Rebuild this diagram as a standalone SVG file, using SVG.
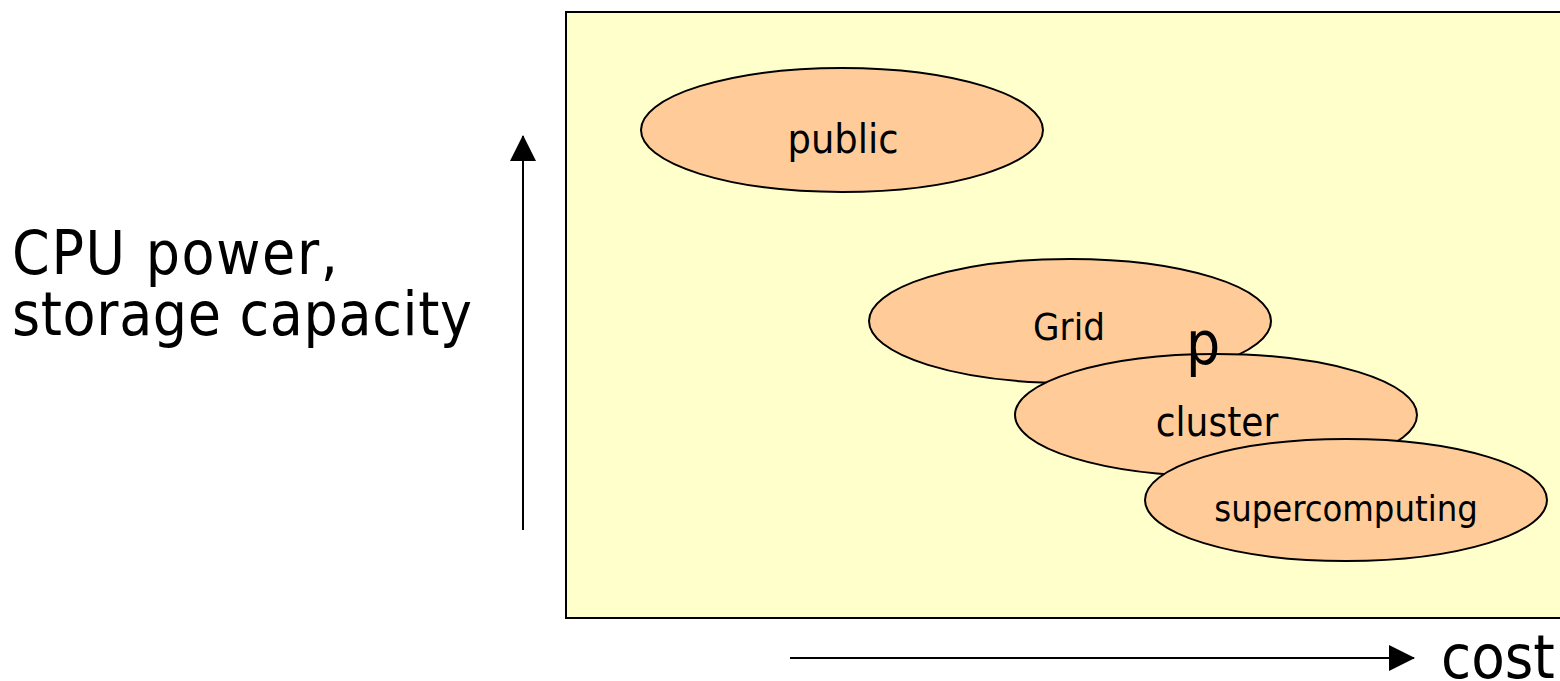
<svg xmlns="http://www.w3.org/2000/svg" width="1560" height="681" viewBox="0 0 1560 681">
<defs>
<style>
.t{font-family:"DejaVu Sans Condensed","DejaVu Sans","Verdana",sans-serif;font-stretch:condensed;fill:#000}
.e{fill:#FFCC99;stroke:#000;stroke-width:2}
.ax{stroke:#000;stroke-width:2;fill:none}
</style>
<marker id="ah" markerWidth="26" markerHeight="26" viewBox="0 0 26 26" refX="25" refY="13" orient="auto" markerUnits="userSpaceOnUse">
<path d="M0,0 L26,13 L0,26 Z" fill="#000"/>
</marker>
</defs>
<rect width="1560" height="681" fill="#fff"/>
<rect id="panel" x="566" y="12" width="1000" height="606" fill="#FFFFCC" stroke="#000" stroke-width="2"/>
<g id="connectors">
<line class="ax" x1="523" y1="530" x2="523" y2="136" marker-end="url(#ah)"/>
<line class="ax" x1="790" y1="658" x2="1414" y2="658" marker-end="url(#ah)"/>
</g>
<g id="public"><ellipse class="e" cx="842" cy="130" rx="201" ry="62"/><text class="t" x="843" y="153" font-size="41" text-anchor="middle">public</text></g>
<g id="grid"><ellipse class="e" cx="1070" cy="321" rx="201" ry="62"/><text class="t" x="1069" y="340" font-size="38" text-anchor="middle">Grid</text></g>
<g id="cluster"><ellipse class="e" cx="1216" cy="415" rx="201" ry="61"/><text class="t" x="1217" y="436" font-size="40" text-anchor="middle">cluster</text></g>
<text class="t" x="1186" y="364" font-size="60">p</text>
<g id="supercomputing"><ellipse class="e" cx="1346" cy="500" rx="201" ry="61"/><text class="t" x="1346" y="521" font-size="36" text-anchor="middle">supercomputing</text></g>
<g id="ylabel"><text class="t" x="12" y="274" font-size="60" textLength="326">CPU power,</text><text class="t" x="12" y="335" font-size="60" textLength="460">storage capacity</text></g>
<text id="xlabel" class="t" x="1441" y="678" font-size="61">cost</text>
</svg>
